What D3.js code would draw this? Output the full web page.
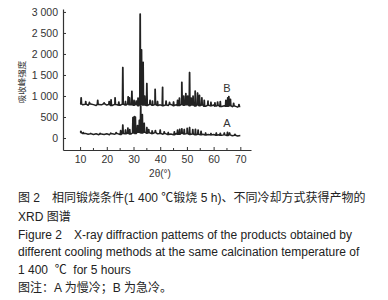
<!DOCTYPE html>
<html>
<head>
<meta charset="utf-8">
<script src="https://cdn.jsdelivr.net/npm/d3@7"></script>
<style>
  body { margin: 0; background: #fff; }
  svg text { font-family: "Liberation Sans", Arial, "Noto Sans CJK SC", sans-serif; fill: #333; }
  .cjk { font-family: "Liberation Sans", "Noto Sans CJK SC", sans-serif; white-space: pre; }
</style>
</head>
<body>
<div id="chart"></div>
<script>
// 2θ 10..70 step 1, baseline intensity
const baseAngles = d3.range(10, 71);
const baseB = [810, 790, 805, 780, 810, 795, 775, 800, 790, 815,
               785, 800, 775, 800, 790, 780, 805, 785, 810, 790,
               780, 800, 770, 795, 785, 775, 800, 780, 795, 775,
               790, 770, 785, 775, 800, 770, 790, 775, 800, 780,
               790, 770, 785, 760, 790, 770, 785, 755, 780, 765,
               785, 760, 775, 750, 770, 755, 770, 745, 760, 735, 750];
const baseA = [130, 105, 110, 90, 100, 85, 100, 80, 95, 85,
               100, 80, 100, 90, 105, 85, 110, 100, 115, 95,
               120, 105, 135, 120, 140, 115, 125, 105, 130, 100,
               110, 90, 105, 85, 95, 80, 105, 90, 115, 95,
               105, 85, 95, 75, 90, 80, 90, 70, 85, 75,
               85, 65, 80, 65, 75, 60, 75, 55, 65, 50, 60];
// peaks: [2θ, intensity]
const peaksB = [[10.4, 960], [12.1, 870], [13.5, 850], [16.6, 900], [19.0, 840], [20.9, 870],
  [21.6, 910], [23.1, 960], [24.5, 860], [26.0, 1680], [27.0, 870], [28.0, 980], [28.5, 960],
  [29.4, 1110], [30.2, 900], [31.0, 880], [31.7, 950], [32.5, 2950], [33.0, 2100], [33.6, 1800],
  [34.2, 1000], [35.0, 1300], [36.2, 900], [37.1, 880], [38.1, 1160], [39.0, 870], [40.9, 1210],
  [42.2, 880], [43.5, 850], [45.0, 860], [46.5, 900], [47.2, 950], [48.1, 1330], [48.8, 1000],
  [49.6, 1060], [50.3, 1000], [51.0, 1560], [51.6, 950], [52.3, 1000], [53.1, 1120], [54.0, 1070],
  [54.7, 1020], [55.6, 960], [56.5, 900], [57.9, 880], [59.0, 850], [60.5, 840], [61.5, 860],
  [62.5, 870], [64.6, 900], [65.3, 960], [65.7, 990], [66.3, 920], [67.5, 830], [69.5, 800]];
const peaksA = [[10.3, 160], [11.2, 130], [14.0, 110], [17.5, 115], [21.5, 120], [23.5, 130],
  [25.2, 180], [26.0, 310], [27.0, 190], [27.9, 240], [28.6, 200], [29.8, 490], [30.3, 510],
  [30.7, 500], [31.5, 300], [32.2, 420], [32.7, 770], [33.3, 560], [34.0, 350], [35.0, 250],
  [35.7, 200], [37.0, 170], [38.2, 180], [40.0, 190], [41.5, 150], [43.0, 130], [45.3, 150],
  [46.5, 190], [47.3, 210], [48.1, 220], [49.0, 200], [50.1, 230], [51.0, 250], [52.2, 200],
  [53.2, 210], [54.2, 190], [55.3, 160], [57.0, 120], [59.0, 110], [61.0, 120], [62.5, 115],
  [64.0, 120], [65.2, 140], [66.0, 120], [68.0, 90]];
const xTicks = [10, 20, 30, 40, 50, 60, 70];
const yTicks = [0, 500, 1000, 1500, 2000, 2500, 3000];
const caption = [
  "图 2　相同锻烧条件(1 400 ℃锻烧 5 h)、不同冷却方式获得产物的",
  "XRD 图谱",
  "Figure 2　X-ray diffraction pattems of the products obtained by",
  "different cooling methods at the same calcination temperature of",
  "1 400  ℃  for 5 hours",
  "图注：A 为慢冷；B 为急冷。"
];

const width = 388, height = 300;
const svg = d3.select('#chart').append('svg')
  .attr('width', width)
  .attr('height', height);

const x = d3.scaleLinear().domain([3.6, 74]).range([63, 251]);
const y = d3.scaleLinear().domain([-285, 3070]).range([150, 9]);

// build a stick pattern from baseline + peaks
const pattern = (base, peaks) => {
  let pts = baseAngles.map((a, i) => [a, base[i]]);
  peaks.forEach(p => {
    const b = base[Math.round(p[0]) - 10];
    pts.push([p[0] - 0.18, b], [p[0] - 0.05, p[1]], [p[0] + 0.05, p[1]], [p[0] + 0.18, b]);
  });
  return pts.sort((a, b) => a[0] - b[0]);
};
const line = d3.line().x(d => x(d[0])).y(d => y(d[1]));

svg.append('g').selectAll('path')
  .data([pattern(baseB, peaksB), pattern(baseA, peaksA)])
  .enter()
  .append('path')
  .attr('d', line)
  .style('fill', 'none')
  .style('stroke', '#222')
  .style('stroke-width', 1.5)
  .style('stroke-linejoin', 'round');

// axes
const xAxis = svg.append('g')
  .attr('transform', `translate(0, ${y.range()[0]})`)
  .call(d3.axisBottom(x).tickValues(xTicks).tickSizeInner(-3).tickSizeOuter(0).tickPadding(6));
xAxis.append('g').selectAll('line')
  .data([15, 25, 35, 45, 55, 65])
  .enter().append('line')
  .attr('x1', d => x(d)).attr('x2', d => x(d))
  .attr('y1', 0).attr('y2', -2)
  .style('stroke', '#333');
const yAxis = svg.append('g')
  .attr('transform', `translate(${x.range()[0]}, 0)`)
  .call(d3.axisLeft(y).tickValues(yTicks).tickSizeInner(-3).tickSizeOuter(0).tickPadding(5)
    .tickFormat(d => d3.format(',')(d).replace(',', ' ')));
[xAxis, yAxis].forEach(g => {
  g.select('.domain').style('stroke', '#333').style('stroke-width', 1.2);
  g.selectAll('.tick line').style('stroke', '#333');
  g.selectAll('.tick text').style('font-size', '10.5px').style('fill', '#333');
});

// axis titles
svg.append('text')
  .attr('class', 'cjk')
  .attr('transform', 'translate(25, 82) rotate(-90)')
  .attr('text-anchor', 'middle')
  .style('font-size', '8.5px')
  .text('吸收峰强度');
svg.append('text')
  .attr('x', 160).attr('y', 177)
  .attr('text-anchor', 'middle')
  .style('font-size', '10px')
  .text('2θ(°)');

// series labels
svg.append('text').attr('x', 227).attr('y', 92).attr('text-anchor', 'middle')
  .style('font-size', '11px').text('B');
svg.append('text').attr('x', 227).attr('y', 127).attr('text-anchor', 'middle')
  .style('font-size', '11px').text('A');

// caption
svg.append('g').selectAll('text')
  .data(caption)
  .enter()
  .append('text')
  .attr('class', 'cjk')
  .attr('x', 18)
  .attr('y', (d, i) => [202, 221, 239, 256, 274, 292][i])
  .style('font-size', '12px')
  .style('fill', '#222')
  .text(d => d);
</script>
</body>
</html>
